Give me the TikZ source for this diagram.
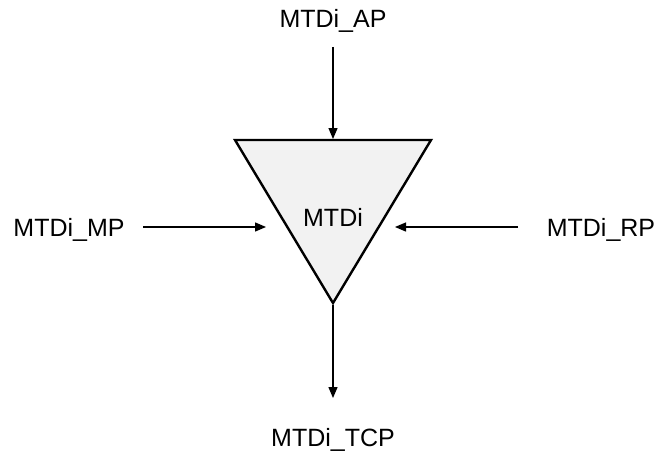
\documentclass[tikz,border=0pt]{standalone}
\usepackage{fontspec}
\setmainfont{Liberation Sans}
\usetikzlibrary{arrows.meta}
\definecolor{trifill}{HTML}{F2F2F2}
\tikzset{
  lbl/.style={font=\fontsize{25}{30}\selectfont, anchor=base, inner sep=0pt},
  conn/.style={line width=1.3pt, -{Triangle[length=11pt,width=9pt]}},
  tri/.style={line width=2.4pt, fill=trifill, line join=miter}
}
\begin{document}
\begin{tikzpicture}[x=1pt,y=-1pt]
\useasboundingbox (0,0) rectangle (658,452);
\coordinate (tl) at (235,140);
\coordinate (tr) at (431,140);
\coordinate (bt) at (333,303);
\draw[tri] (tl) -- (tr) -- (bt) -- cycle;
\node[lbl] (mtdi) at (333,226) {MTDi};
\node[lbl] (ap) at (333,28) {MTDi\_AP};
\node[lbl] (mp) at (69,236) {MTDi\_MP};
\node[lbl] (rp) at (601,236) {MTDi\_RP};
\node[lbl] (tcp) at (333,446) {MTDi\_TCP};
\coordinate (apS) at (333,47);
\coordinate (apE) at (333,139);
\coordinate (mpS) at (143,227);
\coordinate (mpE) at (266,227);
\coordinate (rpS) at (518,227);
\coordinate (rpE) at (395,227);
\coordinate (tcpS) at (333,305);
\coordinate (tcpE) at (333,398);
\draw[conn] (apS) -- (apE);
\draw[conn] (mpS) -- (mpE);
\draw[conn] (rpS) -- (rpE);
\draw[conn] (tcpS) -- (tcpE);
\end{tikzpicture}
\end{document}
